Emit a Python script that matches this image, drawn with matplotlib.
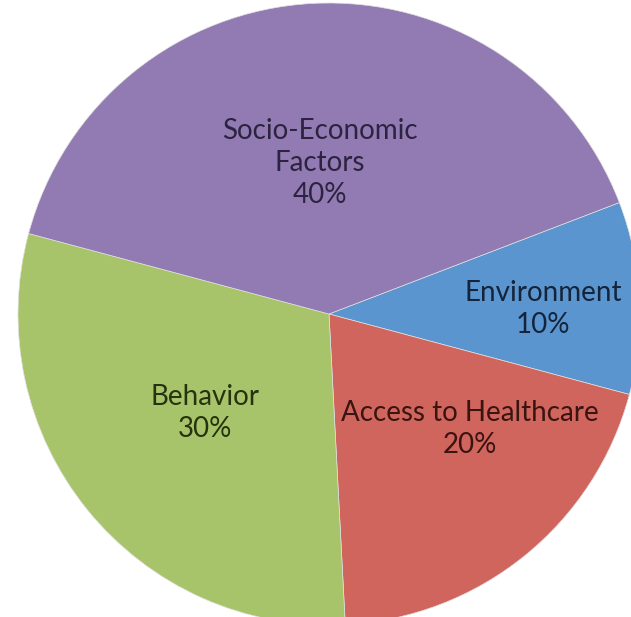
import matplotlib
matplotlib.use("Agg")
import matplotlib.pyplot as plt

categories = ["Environment", "Access to Healthcare", "Behavior", "Socio-Economic\nFactors"]
values = [10, 20, 30, 40]
colors = ["#5B95CF", "#D0655D", "#A8C46A", "#927BB3"]
text_colors = ["#14243A", "#3A1411", "#26330F", "#2C2340"]

W, H = 631, 617
fig = plt.figure(figsize=(W / 100, H / 100), dpi=100)
ax = fig.add_axes([0, 0, 1, 1])

R = 311.0          # pie radius in pixels
cx, cy = 329.0, 314.0  # pie centre in pixels (from top-left)

ax.pie(values, colors=colors, startangle=21, counterclock=False, radius=1.0,
       wedgeprops=dict(linewidth=0.5, edgecolor="#e0e0e0"))
ax.set_aspect("auto")
ax.set_xlim(-cx / R, (W - cx) / R)
ax.set_ylim(-(H - cy) / R, cy / R)
ax.axis("off")

# label centres in pixels
label_px = [(543, 309), (470, 429), (205, 413), (320, 163)]
for cat, v, tc, (px, py) in zip(categories, values, text_colors, label_px):
    ax.text((px - cx) / R, (cy - py) / R, f"{cat}\n{v}%", ha="center", va="center",
            fontsize=20, color=tc, family=["Lato", "DejaVu Sans"], linespacing=1.3)

fig.savefig("out.png", dpi=100, facecolor="white")
